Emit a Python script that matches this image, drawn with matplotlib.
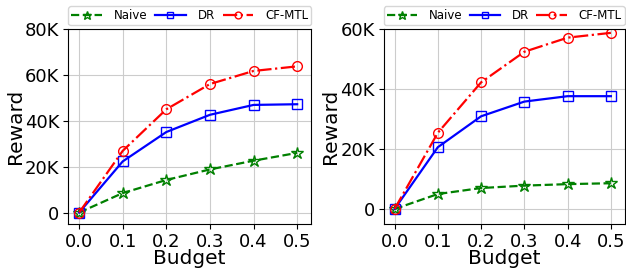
import matplotlib
matplotlib.use("Agg")
import matplotlib.pyplot as plt
from matplotlib.ticker import FuncFormatter

budget = [0.0, 0.1, 0.2, 0.3, 0.4, 0.5]

# left panel
naive_a = [0, 8500, 14200, 18800, 22600, 26000]
dr_a = [0, 22300, 35100, 42600, 46900, 47200]
cfmtl_a = [0, 26900, 45000, 56000, 61700, 63700]

# right panel
naive_b = [0, 5000, 7000, 7800, 8300, 8600]
dr_b = [0, 20600, 30900, 35800, 37600, 37600]
cfmtl_b = [0, 25400, 42200, 52400, 57100, 58700]


def kfmt(v, pos):
    if v == 0:
        return "0"
    return "%dK" % round(v / 1000)


def draw(ax, naive, dr, cfmtl, top, step):
    ax.plot(budget, naive, color="green", ls="--", marker="*", mfc="none",
            ms=9, lw=1.6, label="Naive")
    ax.plot(budget, dr, color="blue", ls="-", marker="s", mfc="none",
            ms=7, lw=1.6, label="DR")
    ax.plot(budget, cfmtl, color="red", ls="-.", marker="o", mfc="none",
            ms=7, lw=1.6, label="CF-MTL")
    ax.set_xlim(-0.025, 0.532)
    ax.set_ylim(-5000, top)
    ax.set_yticks(range(0, top + 1, step))
    ax.set_xticks(budget)
    ax.yaxis.set_major_formatter(FuncFormatter(kfmt))
    ax.grid(True, color="#cccccc", lw=0.8)
    ax.tick_params(labelsize=13, pad=3)
    ax.set_xlabel("Budget", fontsize=14.5, labelpad=-1.5)
    ax.set_ylabel("Reward", fontsize=14.5, labelpad=0)
    ax.legend(loc="lower left", bbox_to_anchor=(0.0, 1.02, 1.0, 0.1),
              mode="expand", ncol=3, fontsize=8.5, handlelength=2.6,
              columnspacing=1.5, borderpad=0.25, handletextpad=1.0,
              markerscale=0.7, borderaxespad=0)


fig = plt.figure(figsize=(6.26, 2.68), dpi=100)
ax1 = fig.add_axes([0.109, 0.164, 0.388, 0.728])
ax2 = fig.add_axes([0.613, 0.164, 0.385, 0.728])
draw(ax1, naive_a, dr_a, cfmtl_a, 80000, 20000)
draw(ax2, naive_b, dr_b, cfmtl_b, 60000, 20000)
fig.savefig("out.png", dpi=100)
